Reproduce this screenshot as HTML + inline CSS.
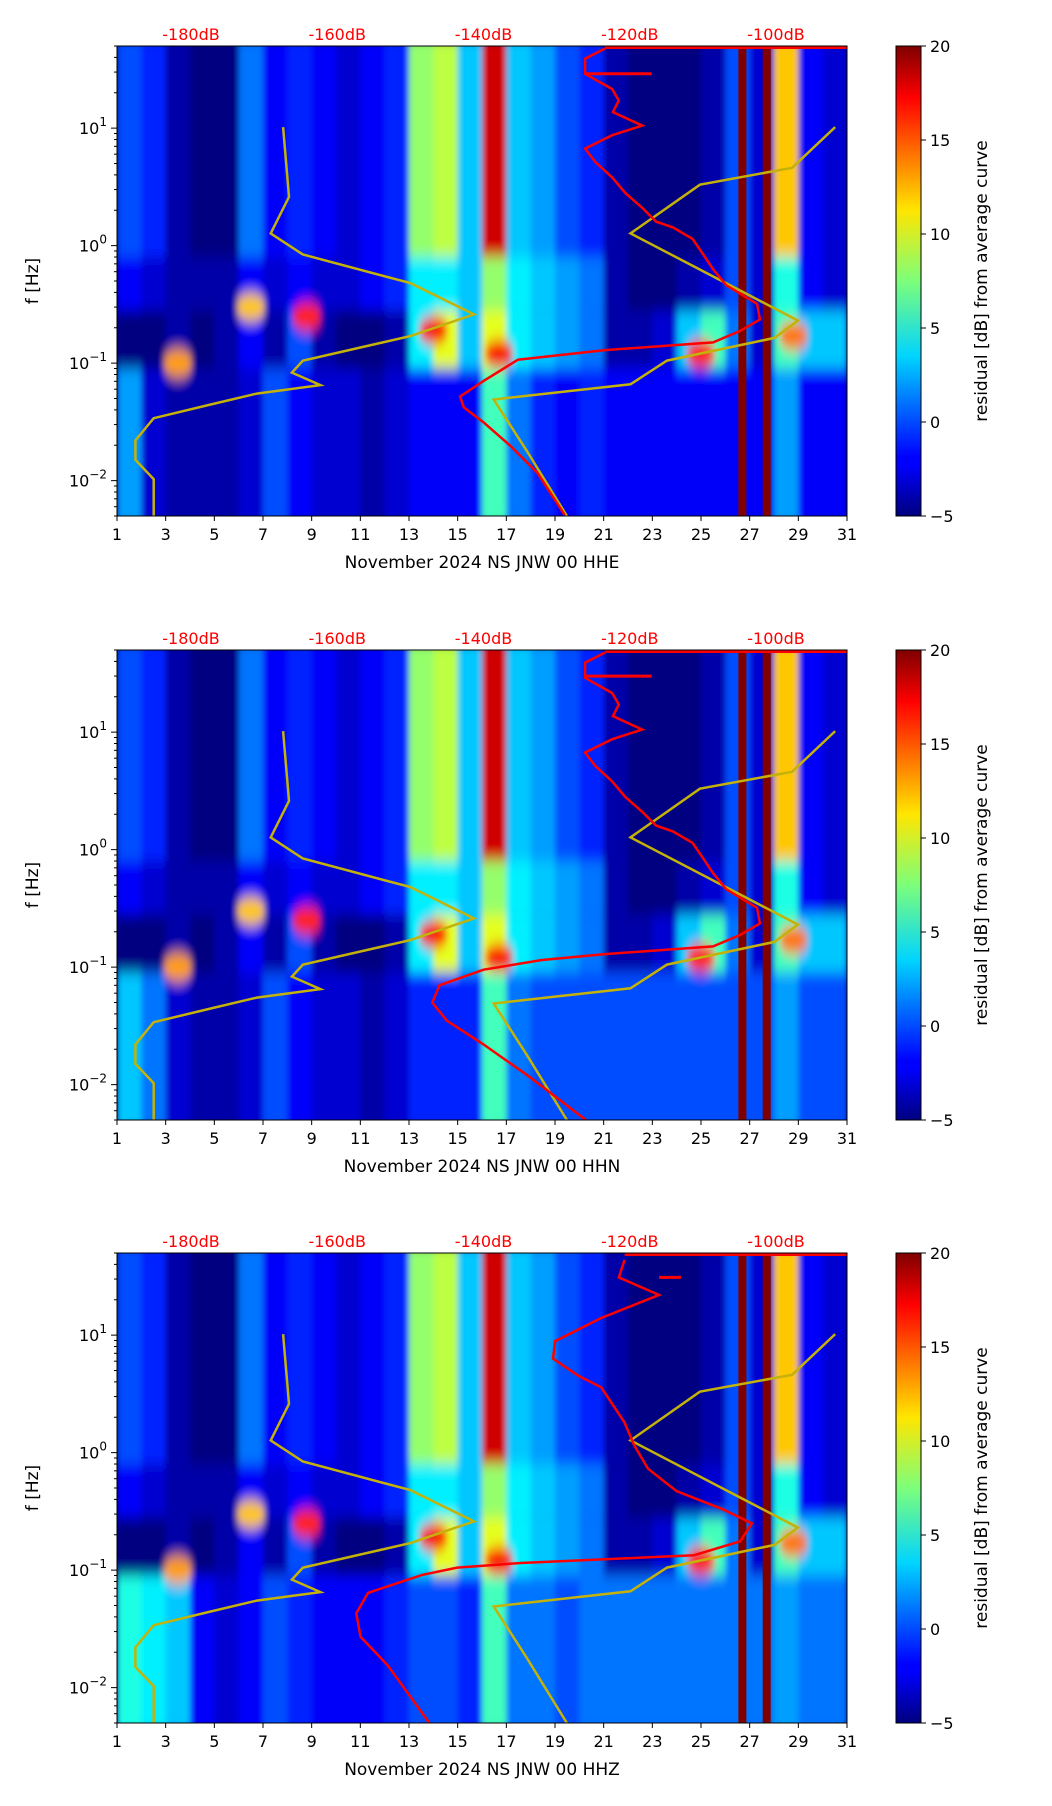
<!DOCTYPE html>
<html><head><meta charset="utf-8"><style>
html,body{margin:0;padding:0;background:#fff}
svg{display:block;font-family:"DejaVu Sans","Liberation Sans",sans-serif}
</style></head><body>
<svg id="fig" width="1052" height="1806" viewBox="0 0 1052 1806" xmlns="http://www.w3.org/2000/svg">
<defs>
<filter id="blur" x="-5%" y="-5%" width="110%" height="110%"><feGaussianBlur stdDeviation="3 7"/></filter>
<linearGradient id="jetgrad" x1="0" y1="1" x2="0" y2="0">
<stop offset="0" stop-color="#00007f"/><stop offset="0.11" stop-color="#0000ff"/><stop offset="0.125" stop-color="#0000ff"/>
<stop offset="0.34" stop-color="#00d4ff"/><stop offset="0.5" stop-color="#7dff7a"/><stop offset="0.65" stop-color="#ffe600"/>
<stop offset="0.89" stop-color="#ff0000"/><stop offset="1" stop-color="#7f0000"/></linearGradient>
</defs>
</svg>
<script>
// ---- data ----
const dayTicks=[1,3,5,7,9,11,13,15,17,19,21,23,25,27,29,31];
const dbTicks=[-180,-160,-140,-120,-100];
const cbTicks=[20,15,10,5,0,-5];
const panelNames=["November 2024 NS JNW 00 HHE","November 2024 NS JNW 00 HHN","November 2024 NS JNW 00 HHZ"];
const hiVals=[0,-1,-4,-5,-5,1,-2,-1,-2,-3,-2,-1,8,9,3,18,3,2,0,-1,-4,-5,-5,-5,-4,0,-3,12,-2,-3];
const transVals=[-2,-3,-4,-4,-4,-2,-3,-2,-3,-3,-2,-1,4,4,3,8,4,3,2,1,-4,-5,-5,-4,-3,0,-3,5,-2,-3];
const midVals=[-5,-5,-4,-5,-4,-2,-4,0,-4,-5,-5,-4,4,10,3,10,4,3,2,1,-4,-4,-3,3,6,1,-3,6,3,3];
const loVals1=[2,-3,-4,-4,-4,-3,0,-2,-3,-3,-4,-3,-2,-2,-2,6,1,-1,-2,-1,-2,-2,-2,-2,-2,-2,-2,2,-2,-2];
const loVals2=[3,1,-3,-4,-4,-3,0,-2,-3,-3,-4,-3,-1,-1,-1,6,1,0,0,0,0,0,0,0,0,0,0,2,0,0];
const loVals3=[5,4,3,-2,-3,-2,0,-1,-2,-2,-2,-1,0,0,-1,6,1,1,0,1,1,1,1,1,1,1,1,2,1,1];
const blobDay=[14.0,16.7,25.0,28.8,8.8,3.5,6.5];
const blobF=[0.19,0.12,0.12,0.17,0.25,0.1,0.3];
const blobVal=[17,17,16,14,16,13,12];
const yelDb=[-167.4,-166.6,-169.1,-164.7,-150.0,-141.3,-150.0,-164.7,-166.2,-162.3,-171.0,-177.6,-185.1,-187.6,-187.6,-185.1,-185.1];
const yelF=[10.2,2.6,1.27,0.84,0.48,0.26,0.17,0.105,0.083,0.065,0.055,0.044,0.034,0.022,0.015,0.0103,0.005];
const yel2Db=[-91.9,-97.8,-110.4,-119.9,-97.0,-100.2,-114.9,-119.9,-138.6,-134.1,-128.6];
const yel2F=[10.2,4.6,3.3,1.27,0.23,0.164,0.105,0.066,0.049,0.018,0.005];
const red1Db=[-123.4,-126.1,-126.1,-122.4,-121.5,-122.3,-118.3,-122.4,-126.1,-124.7,-122.4,-120.6,-118.3,-116.4,-114.1,-111.4,-110.0,-108.6,-106.8,-102.6,-102.2,-104.9,-108.6,-123.4,-135.3,-139.9,-143.2,-142.7,-139.9,-136.3,-132.6,-128.9];
const red1F=[47.5,39,29,21.5,17.2,13.7,10.5,8.7,6.7,5.15,3.8,2.8,2.1,1.6,1.43,1.14,0.85,0.63,0.46,0.32,0.235,0.188,0.15,0.129,0.107,0.071,0.052,0.042,0.031,0.0197,0.0116,0.0051];
const red2Db=[-123.4,-126.1,-126.1,-122.4,-121.5,-122.3,-118.3,-122.4,-126.1,-124.7,-122.4,-120.6,-118.3,-116.4,-114.1,-111.4,-110.0,-108.6,-106.8,-102.6,-102.2,-104.9,-108.6,-123.4,-132,-140,-146,-147,-145,-140,-134,-126];
const red2F=[47.5,39,29,21.5,17.2,13.7,10.5,8.7,6.7,5.15,3.8,2.8,2.1,1.6,1.43,1.14,0.85,0.63,0.46,0.32,0.235,0.188,0.15,0.129,0.115,0.095,0.07,0.05,0.035,0.022,0.012,0.005];
const red3Db=[-120.7,-121.5,-116.0,-123.9,-130.2,-130.5,-127.0,-123.9,-120.7,-119.4,-117.5,-113.6,-107.3,-103.3,-104.9,-111.2,-134.9,-143.6,-148.4,-155.8,-157.4,-156.8,-153.1,-147.3];
const red3F=[43.7,31,22,14,8.9,6.3,4.5,3.6,1.8,1.16,0.73,0.47,0.33,0.25,0.176,0.134,0.115,0.105,0.091,0.064,0.043,0.027,0.0155,0.0049];
const redSpikeDb=[-117,-117,-113];
const redSpikeF=[29,30,31];
const darkBarDays=[26.7,27.7];
const loSets=[loVals1,loVals2,loVals3];
const redDbs=[red1Db,red2Db,red3Db], redFs=[red1F,red2F,red3F];

// ---- geometry ----
const NS="http://www.w3.org/2000/svg";
const svg=document.getElementById('fig');
const L=117,W=730,H=470,tops=[46,650,1253];
const CBX=896,CBW=25;
function el(tag,attrs,parent){const e=document.createElementNS(NS,tag);for(const k in attrs)e.setAttribute(k,attrs[k]);(parent||svg).appendChild(e);return e;}
function jet(v){let t=Math.max(0,Math.min(1,(v+5)/25));
 const r=Math.max(0,Math.min(1,1.5-Math.abs(4*t-3))),g=Math.max(0,Math.min(1,1.5-Math.abs(4*t-2))),b=Math.max(0,Math.min(1,1.5-Math.abs(4*t-1)));
 return `rgb(${Math.round(r*255)},${Math.round(g*255)},${Math.round(b*255)})`;}

tops.forEach((T,p)=>{
 const xD=d=>L+(d-1)*W/30;
 const xDb=db=>191+(db+180)*(585/80);
 const yF=f=>T+(Math.log10(50)-Math.log10(f))/4*H;
 const g=el('g',{});
 
 
 const cid='clip'+p;
 const cp=el('clipPath',{id:cid},g);el('rect',{x:L,y:T,width:W,height:H},cp);
 const hm=el('g',{'clip-path':`url(#${cid})`},g);
 
 
 el('rect',{x:L,y:T,width:W,height:H,fill:'#00007f'},hm);
 const bl=el('g',{filter:'url(#blur)'},hm);
 const lo=loSets[p];
 for(let i=0;i<30;i++){
  const x0=xD(i+1),w=W/30+0.5;
  const bands=[[60,0.8,hiVals[i]],[0.8,0.28,transVals[i]],[0.28,0.09,midVals[i]],[0.09,0.004,lo[i]]];
  bands.forEach(b=>{const r=el('rect',{x:x0,y:yF(b[0]),width:w,height:yF(b[1])-yF(b[0]),fill:jet(b[2])},bl);
   
   });
 }
 blobDay.forEach((d,k)=>{const e=el('ellipse',{cx:xD(d),cy:yF(blobF[k]),rx:W/30*0.6,ry:14,fill:jet(blobVal[k])},bl);
  
  });
 darkBarDays.forEach(d=>{const r=el('rect',{x:xD(d)-4,y:T,width:8,height:H,fill:'#800000'},hm);
  
  });
 const pts=(a,b)=>a.map((db,k)=>xDb(db).toFixed(1)+','+yF(b[k]).toFixed(1)).join(' ');
 const y1=el('polyline',{points:pts(yelDb,yelF),fill:'none',stroke:'#c4b20a','stroke-width':2.5},hm);
 
 
 const y2=el('polyline',{points:pts(yel2Db,yel2F),fill:'none',stroke:'#c4b20a','stroke-width':2.5},hm);
 
 
 const rl=el('polyline',{points:pts(redDbs[p],redFs[p]),fill:'none',stroke:'#ff0000','stroke-width':2.5},hm);
 
 
 const rtop=el('line',{x1:xDb(redDbs[p][0]),y1:T+1.5,x2:L+W,y2:T+1.5,stroke:'#ff0000','stroke-width':3},hm);
 
 
 const sp=el('line',{x1:xDb(redDbs[p][2]),y1:yF(redSpikeF[p]),x2:xDb(redSpikeDb[p]),y2:yF(redSpikeF[p]),stroke:'#ff0000','stroke-width':3},hm);
 
 
 el('rect',{x:L,y:T,width:W,height:H,fill:'none',stroke:'#000','stroke-width':1},g);
 dayTicks.forEach(d=>{el('line',{x1:xD(d),y1:T+H,x2:xD(d),y2:T+H+5,stroke:'#000'},g);
  const t=el('text',{x:xD(d),y:T+H+24,'font-size':16,'text-anchor':'middle'},g);t.textContent=d;
  
  });
 const xl=el('text',{x:L+W/2,y:T+H+52,'font-size':17,'text-anchor':'middle'},g);xl.textContent=panelNames[p];
 
 
 dbTicks.forEach(db=>{const t=el('text',{x:xDb(db),y:T-6,'font-size':16,'text-anchor':'middle',fill:'#ff0000'},g);t.textContent=db+'dB';
  
  });
 [1,0,-1,-2].forEach(e=>{const y=yF(Math.pow(10,e));el('line',{x1:L-6,y1:y,x2:L,y2:y,stroke:'#000'},g);
  const t=el('text',{x:L-10,y:y+6,'font-size':16,'text-anchor':'end'},g);
  t.innerHTML='10<tspan dy="-8" font-size="12">'+(e<0?'\u2212'+(-e):e)+'</tspan>';
  
  });
 for(let e=-3;e<=1;e++)for(let m=2;m<=9;m++){const f=m*Math.pow(10,e);if(f<0.005||f>50)continue;const y=yF(f);el('line',{x1:L-3,y1:y,x2:L,y2:y,stroke:'#000'},g);}
 const yl=el('text',{x:0,y:0,'font-size':17,'text-anchor':'middle',transform:`translate(38,${T+H/2}) rotate(-90)`},g);yl.textContent='f [Hz]';
 
 
 const cb=el('rect',{x:CBX,y:T,width:CBW,height:H,fill:'url(#jetgrad)',stroke:'#000'},g);
 
 
 cbTicks.forEach(v=>{const y=T+(20-v)/25*H;el('line',{x1:CBX+CBW,y1:y,x2:CBX+CBW+5,y2:y,stroke:'#000'},g);
  const t=el('text',{x:CBX+CBW+9,y:y+6,'font-size':16},g);t.textContent=v<0?'\u2212'+(-v):v;
  
  });
 const cl=el('text',{x:0,y:0,'font-size':17,'text-anchor':'middle',transform:`translate(987,${T+H/2}) rotate(-90)`},g);cl.textContent='residual [dB] from average curve';
 
 
});
</script>
</body></html>
